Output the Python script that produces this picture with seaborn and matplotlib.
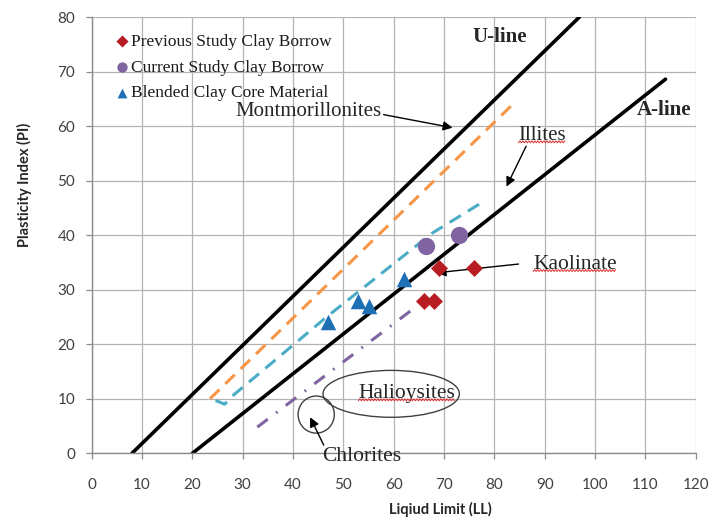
import matplotlib
matplotlib.use("Agg")
import matplotlib.pyplot as plt
import matplotlib.transforms as mtransforms
from matplotlib.patches import Ellipse
import numpy as np
import seaborn as sns

# ---- measured samples -------------------------------------------------------
prev_ll = [69, 76, 66, 68]
prev_pi = [34, 34, 28, 28]
curr_ll = [66.5, 73]
curr_pi = [38, 40]
blend_ll = [47, 53, 55, 62]
blend_pi = [24, 28, 27, 32]

series_names = ["Previous Study Clay Borrow",
                "Current Study Clay Borrow",
                "Blended Clay Core Material"]

# ---- reference lines on the plasticity chart --------------------------------
u_ll, u_pi = [8, 96.9], [0, 80]
a_ll, a_pi = [20, 114], [0, 68.6]
mont_ll, mont_pi = [23.5, 84], [10, 64.3]
illite_ll = [24.6, 26.4, 28.2, 46.8, 67.7, 77.2]
illite_pi = [9.7, 9.0, 10.7, 25.1, 40.4, 45.8]
kaol_ll, kaol_pi = [32.9, 64.9], [4.8, 27.2]

x_ticks = list(range(0, 121, 10))
y_ticks = list(range(0, 81, 10))

sns.set_theme(style="white")
plt.rcParams["font.family"] = ["Lato", "DejaVu Sans"]
SERIF = ["Liberation Serif", "DejaVu Serif"]

fig = plt.figure(figsize=(7.25, 5.2), dpi=100, facecolor="white")
ax = fig.add_axes([0.1265, 0.1283, 0.8331, 0.8390])

# reference lines
sns.lineplot(x=u_ll, y=u_pi, ax=ax, color="black", lw=2.6, sort=False, estimator=None)
sns.lineplot(x=a_ll, y=a_pi, ax=ax, color="black", lw=2.6, sort=False, estimator=None)
sns.lineplot(x=mont_ll, y=mont_pi, ax=ax, color="#F79646", lw=2.2, sort=False,
             estimator=None)
ax.lines[-1].set_dashes((4.3, 2.7))
sns.lineplot(x=illite_ll, y=illite_pi, ax=ax, color="#4BACC6", lw=2.2, sort=False,
             estimator=None)
ax.lines[-1].set_dashes((4.3, 2.7))
sns.lineplot(x=kaol_ll, y=kaol_pi, ax=ax, color="#8064A2", lw=2.2, sort=False,
             estimator=None)
ax.lines[-1].set_dashes((4.3, 3.4, 0.6, 3.4))

# samples
sns.scatterplot(x=prev_ll, y=prev_pi, ax=ax, color="#B81D24", marker="D", s=75,
                linewidth=0, label=series_names[0], zorder=5)
sns.scatterplot(x=curr_ll, y=curr_pi, ax=ax, color="#8064A2", marker="o", s=155,
                linewidth=0, label=series_names[1], zorder=5)
sns.scatterplot(x=blend_ll, y=blend_pi, ax=ax, color="#1F6FB4", marker="^", s=125,
                linewidth=0, label=series_names[2], zorder=5)

# axes styling
ax.set_xlim(0, 120)
ax.set_ylim(0, 80)
ax.set_xticks(x_ticks)
ax.set_yticks(y_ticks)
ax.grid(True, color="#B4B4B4", lw=0.9)
ax.set_axisbelow(True)
for side in ["top", "right"]:
    ax.spines[side].set_visible(False)
for side in ["left", "bottom"]:
    ax.spines[side].set_color("#8C8C8C")
    ax.spines[side].set_linewidth(1.0)
ax.tick_params(axis="both", direction="out", length=4, width=0.9, color="#8C8C8C",
               labelsize=11, labelcolor="#404040", left=True, bottom=True)
ax.tick_params(axis="x", pad=14)
ax.tick_params(axis="y", pad=8)

ax.set_xlabel("Liqiud Limit (LL)", fontsize=10.5, fontweight="bold", color="#262626")
ax.set_ylabel("Plasticity Index (PI)", fontsize=10.5, fontweight="bold", color="#262626")
ax.xaxis.label.set_va("center")
ax.yaxis.label.set_va("center")
ax.xaxis.set_label_coords(0.577, -0.128)
ax.yaxis.set_label_coords(-0.111, 0.615)

# legend
handles, labels = ax.get_legend_handles_labels()
leg = ax.legend(handles, labels, loc="upper left", bbox_to_anchor=(0.040, 0.962),
                frameon=False, prop={"family": SERIF, "size": 12.5},
                handlelength=0.7, handletextpad=0.15,
                labelspacing=0.56, borderaxespad=0, borderpad=0)
for h, sz in zip(leg.legend_handles, [38, 55, 50]):
    h.set_sizes([sz])
for t in leg.get_texts():
    t.set_color("#1a1a1a")

# line names and mineral groups
ax.text(81, 76.3, "U-line", family=SERIF, fontsize=15, fontweight="bold",
        ha="center", va="center")
ax.text(113.7, 62.9, "A-line", family=SERIF, fontsize=15, fontweight="bold",
        ha="center", va="center")

arrow = dict(arrowstyle="-|>", color="black", lw=1.0, mutation_scale=14,
             shrinkA=0, shrinkB=0)
ax.text(43, 62.7, "Montmorillonites", family=SERIF, fontsize=15, ha="center", va="center")
ax.annotate("", xy=(71.7, 59.7), xytext=(58, 62.1), arrowprops=arrow)

illites = ax.text(89.5, 58.3, "Illites", family=SERIF, fontsize=15, ha="center", va="center")
ax.annotate("", xy=(82.4, 48.9), xytext=(86.3, 56.3), arrowprops=arrow)

kaol = ax.text(96, 34.7, "Kaolinate", family=SERIF, fontsize=15.5, ha="center", va="center")
ax.annotate("", xy=(68.5, 33.1), xytext=(84.8, 34.7), arrowprops=arrow)

ax.add_patch(Ellipse((59.5, 10.9), 27.1, 8.6, fill=False, ec="#404040", lw=1.0))
halo = ax.text(62.6, 11.0, "Halioysites", family=SERIF, fontsize=15.5, ha="center", va="center")

ax.add_patch(Ellipse((44.6, 7.1), 7.2, 6.8, fill=False, ec="#404040", lw=1.0))
ax.text(53.7, -0.55, "Chlorites", family=SERIF, fontsize=15.5, ha="center", va="center",
        zorder=6)
ax.annotate("", xy=(43.4, 6.6), xytext=(46.1, 1.5), arrowprops=arrow)

# wavy red underlines under flagged words
fig.canvas.draw()
renderer = fig.canvas.get_renderer()
for txt in [illites, kaol, halo]:
    bb = txt.get_window_extent(renderer)
    xs = np.arange(bb.x0, bb.x1, 1.5)
    ys = bb.y0 + 3 + 1.0 * ((np.arange(len(xs)) % 2) * 2 - 1)
    fig.lines.append(plt.Line2D(xs, ys, transform=mtransforms.IdentityTransform(),
                                color="#E03030", lw=0.7, figure=fig))

fig.savefig("out.png", dpi=100, facecolor="white")
